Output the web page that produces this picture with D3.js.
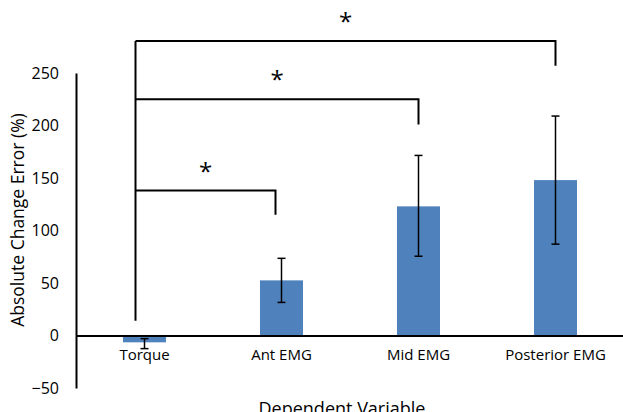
<!DOCTYPE html>
<html>
<meta charset="utf-8">
<head>
<title>Absolute change error</title>
<script src="https://cdnjs.cloudflare.com/ajax/libs/d3/7.8.5/d3.min.js"></script>
<style>
    body { margin: 0; background: #fff; }
</style>
</head>
<body>
<script>

const width = 623,
    height = 412;

// Data
const categories = ["Torque", "Ant EMG", "Mid EMG", "Posterior EMG"];
const means = [-6.5, 52.5, 123, 148];
const errLow = [-12.5, 31.5, 75.5, 87];
const errHigh = [-3, 73.5, 171.5, 209];
const yTicks = [-50, 0, 50, 100, 150, 200, 250];

// Significance brackets: from Torque to target, bracket level and right drop, in data units
const bracketTargets = ["Ant EMG", "Mid EMG", "Posterior EMG"];
const bracketLevels = [138, 225, 280.5];
const bracketDrops = [115, 201, 257];
const bracketBase = 14;

const svg = d3.select("body")
    .append("svg")
    .attr("width", width)
    .attr("height", height);

const x = d3.scaleBand()
    .domain(categories)
    .range([76, 624])
    .padding(0);

const y = d3.scaleLinear()
    .domain([-50, 250])
    .range([388, 73]);

const barWidth = 43;
const cx = d => x(d) + x.bandwidth() / 2;

// Bars
svg.selectAll("rect.bar")
    .data(categories)
    .enter()
    .append("rect")
    .attr("class", "bar")
    .attr("x", d => cx(d) - barWidth / 2)
    .attr("y", (d, i) => y(Math.max(0, means[i])))
    .attr("width", barWidth)
    .attr("height", (d, i) => Math.abs(y(means[i]) - y(0)))
    .attr("fill", "#4f81bd");

// Error bars
const err = svg.append("g")
    .attr("stroke", "#000")
    .attr("stroke-width", 1.5);
categories.forEach((c, i) => {
    err.append("line")
        .attr("x1", cx(c)).attr("x2", cx(c))
        .attr("y1", y(errLow[i])).attr("y2", y(errHigh[i]));
    [errLow[i], errHigh[i]].forEach(v => {
        err.append("line")
            .attr("x1", cx(c) - 4).attr("x2", cx(c) + 4)
            .attr("y1", y(v)).attr("y2", y(v));
    });
});

// Axes (line only, no tick marks)
const yAxis = svg.append("g")
    .attr("transform", "translate(76,0)")
    .call(d3.axisLeft(y).tickValues(yTicks).tickSize(0).tickPadding(17));
yAxis.select(".domain").attr("stroke-width", 2);
yAxis.selectAll("text")
    .attr("font-family", "Open Sans, sans-serif")
    .attr("font-size", "16px")
    .attr("fill", "#000");

const xAxis = svg.append("g")
    .attr("transform", `translate(0,${y(0)})`)
    .call(d3.axisBottom(x).tickSize(0).tickPadding(14));
xAxis.select(".domain").attr("stroke-width", 2);
xAxis.selectAll("text")
    .attr("font-family", "Open Sans, sans-serif")
    .attr("font-size", "15px")
    .attr("fill", "#000");

// Significance brackets
const leftX = cx("Torque") - 9;
const brackets = svg.append("g")
    .attr("fill", "none")
    .attr("stroke", "#000")
    .attr("stroke-width", 2);
brackets.append("line")
    .attr("x1", leftX).attr("x2", leftX)
    .attr("y1", y(bracketBase)).attr("y2", y(d3.max(bracketLevels)));
bracketTargets.forEach((t, i) => {
    const rx = cx(t) + (i === 0 ? -6 : 0);
    brackets.append("path")
        .attr("d", `M${leftX},${y(bracketLevels[i])}H${rx}V${y(bracketDrops[i])}`);
    svg.append("text")
        .attr("x", (leftX + rx) / 2)
        .attr("y", y(bracketLevels[i]) - 11)
        .attr("text-anchor", "middle")
        .attr("font-family", "Open Sans, sans-serif")
        .attr("font-size", "24px")
        .text("*");
});

// Axis titles
svg.append("text")
    .attr("transform", "translate(24,220) rotate(-90)")
    .attr("text-anchor", "middle")
    .attr("font-family", "Open Sans, sans-serif")
    .attr("font-size", "17.5px")
    .text("Absolute Change Error (%)");

svg.append("text")
    .attr("x", 342)
    .attr("y", 415)
    .attr("text-anchor", "middle")
    .attr("font-family", "Open Sans, sans-serif")
    .attr("font-size", "18px")
    .text("Dependent Variable");

</script>
</body>
</html>
